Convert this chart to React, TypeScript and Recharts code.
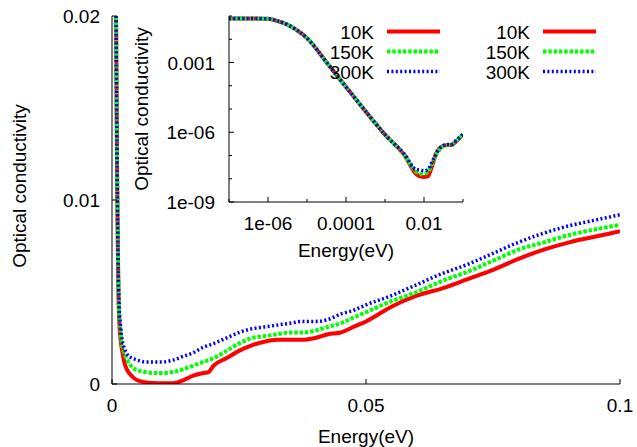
import { LineChart, Line, XAxis, YAxis, Legend, CartesianGrid } from 'recharts';

const INK = '#000';
const FONT = "'Liberation Sans', Arial, Helvetica, sans-serif";
const FS = 19;

// main panel, linear axes
const energyMain = [
  0.0001, 0.0005, 0.0008, 0.001, 0.0012, 0.0014, 0.0017, 0.002, 0.0025, 0.003,
  0.004, 0.005, 0.0065, 0.008, 0.01, 0.012, 0.014, 0.016, 0.018, 0.019,
  0.02, 0.0225, 0.025, 0.0275, 0.03, 0.0325, 0.035, 0.0375, 0.04, 0.0425,
  0.045, 0.0475, 0.05, 0.055, 0.06, 0.065, 0.07, 0.075, 0.08, 0.085,
  0.09, 0.095, 0.1,
];
const sigma10K = [
  0.075, 0.04, 0.02, 0.0115, 0.0062, 0.0036, 0.0024, 0.0018, 0.0011, 0.00075,
  0.0004, 0.0002, 0.0001, 0.00005, 0.00004, 0.00004, 0.0002, 0.00045, 0.0006, 0.00065,
  0.001, 0.0014, 0.0018, 0.0021, 0.0023, 0.0024, 0.0024, 0.0024, 0.0025, 0.0027,
  0.0028, 0.0031, 0.0034, 0.0042, 0.0048, 0.0052, 0.0057, 0.0062, 0.0068, 0.0073,
  0.0077, 0.008, 0.0083,
];
const sigma150K = [
  0.075, 0.04, 0.02, 0.0118, 0.0065, 0.004, 0.0028, 0.0021, 0.0016, 0.0013,
  0.0009, 0.00075, 0.00065, 0.0006, 0.0006, 0.00065, 0.0008, 0.001, 0.0012, 0.0013,
  0.0014, 0.0018, 0.0022, 0.0025, 0.0026, 0.0027, 0.0028, 0.0028, 0.0029, 0.0031,
  0.0033, 0.0036, 0.0039, 0.0045, 0.005, 0.0056, 0.0061, 0.0067, 0.0073, 0.0077,
  0.0081, 0.0084, 0.00865,
];
const sigma300K = [
  0.075, 0.04, 0.02, 0.012, 0.0067, 0.0043, 0.0031, 0.0024, 0.0019, 0.0016,
  0.0014, 0.0013, 0.0012, 0.0012, 0.0012, 0.0013, 0.0015, 0.0017, 0.002, 0.0021,
  0.0022, 0.0025, 0.0028, 0.003, 0.0031, 0.0032, 0.0033, 0.0034, 0.0034, 0.0035,
  0.0038, 0.004, 0.0043, 0.0048, 0.0054, 0.006, 0.0065, 0.0071, 0.0077, 0.0082,
  0.0086, 0.0089, 0.0092,
];
const mainXTicks = [0, 0.05, 0.1];
const mainXLabels = ['0', '0.05', '0.1'];
const mainYTicks = [0, 0.01, 0.02];
const mainYLabels = ['0', '0.01', '0.02'];

// inset, log-log axes
const energyInset = [
  1e-7, 3.2e-7, 1e-6, 1.8e-6, 3.2e-6, 5.6e-6, 1e-5, 3.2e-5, 1e-4, 3.2e-4,
  1e-3, 3.2e-3, 6.3e-3, 7.9e-3, 1e-2, 1.26e-2, 1.58e-2, 2e-2, 2.8e-2, 4e-2,
  5e-2, 7.1e-2, 0.1,
];
const inset10K = [
  0.079, 0.079, 0.076, 0.06, 0.042, 0.024, 0.0112, 1e-3, 8.9e-5, 7.9e-6,
  7.9e-7, 1e-7, 1.6e-8, 1.26e-8, 1.2e-8, 1.26e-8, 3.2e-8, 1.1e-7, 2.4e-7, 2.8e-7,
  2.8e-7, 4.5e-7, 7.6e-7,
];
const inset150K = [
  0.079, 0.079, 0.076, 0.06, 0.042, 0.024, 0.0112, 1e-3, 8.9e-5, 7.9e-6,
  7.9e-7, 1e-7, 2e-8, 1.66e-8, 1.66e-8, 2e-8, 4e-8, 1e-7, 2.2e-7, 2.8e-7,
  2.8e-7, 4.7e-7, 7.9e-7,
];
const inset300K = [
  0.079, 0.079, 0.076, 0.06, 0.042, 0.024, 0.0112, 1e-3, 8.9e-5, 7.9e-6,
  7.9e-7, 1.1e-7, 2.5e-8, 2.4e-8, 2.2e-8, 2.5e-8, 5e-8, 1.1e-7, 2.4e-7, 3e-7,
  3e-7, 5e-7, 8.3e-7,
];
const insetXTicks = [1e-7, 1e-6, 1e-5, 1e-4, 1e-3, 1e-2, 1e-1];
const insetXLabels = ['', '1e-06', '', '0.0001', '', '0.01', ''];
const insetYTicks = [1e-9, 1e-8, 1e-7, 1e-6, 1e-5, 1e-4, 1e-3, 1e-2, 1e-1];
const insetYLabels = ['1e-09', '', '', '1e-06', '', '', '0.001', '', ''];

const series = [
  { key: 't10', name: '10K', color: '#ff0000', width: 4, dash: undefined as string | undefined },
  { key: 't150', name: '150K', color: '#00ff00', width: 4, dash: '3.5 1.8' },
  { key: 't300', name: '300K', color: '#0000ff', width: 3.5, dash: '2 2.4' },
];

const mainRows = energyMain.map((e, i) => ({ e, t10: sigma10K[i], t150: sigma150K[i], t300: sigma300K[i] }));
const insetRows = energyInset.map((e, i) => ({ e, t10: inset10K[i], t150: inset150K[i], t300: inset300K[i] }));

const textProps = { fontFamily: FONT, fontSize: FS, fill: INK };

// ticks point inward, gnuplot style; tickSize/tickMargin are 0 so (x, y) sits on the axis line
const leftTick = (labels: string[], gap: number) => (p: any) => {
  const label = labels[p.index] || '';
  return (
    <g>
      <line x1={p.x} y1={p.y} x2={p.x + (label ? 5 : 3)} y2={p.y} stroke={INK} />
      {label && (
        <text x={p.x - gap} y={p.y + 7} textAnchor="end" {...textProps}>
          {label}
        </text>
      )}
    </g>
  );
};
const rightTick = (labels: string[]) => (p: any) => (
  <line x1={p.x - (labels[p.index] ? 5 : 3)} y1={p.y} x2={p.x} y2={p.y} stroke={INK} />
);
const bottomTick = (labels: string[]) => (p: any) => {
  const label = labels[p.index] || '';
  return (
    <g>
      <line x1={p.x} y1={p.y} x2={p.x} y2={p.y - (label ? 5 : 3)} stroke={INK} />
      {label && (
        <text x={p.x} y={p.y + 28} textAnchor="middle" {...textProps}>
          {label}
        </text>
      )}
    </g>
  );
};
const topTick = (labels: string[]) => (p: any) => (
  <line x1={p.x} y1={p.y} x2={p.x} y2={p.y + (labels[p.index] ? 5 : 3)} stroke={INK} />
);

const xTitle = (drop: number) => (p: any) => {
  const vb = p.viewBox;
  return (
    <text x={vb.x + vb.width / 2} y={vb.y + drop} textAnchor="middle" {...textProps}>
      Energy(eV)
    </text>
  );
};
const yTitle = (dx: number, dy: number) => (p: any) => {
  const vb = p.viewBox;
  const x = vb.x + dx;
  const y = vb.y + vb.height / 2 + dy;
  return (
    <text x={x} y={y} textAnchor="middle" transform={`rotate(-90 ${x} ${y})`} {...textProps}>
      Optical conductivity
    </text>
  );
};

const KeyBox = () => (
  <svg width={125} height={62} style={{ display: 'block', overflow: 'visible' }}>
    {series.map((s, i) => (
      <g key={s.key}>
        <text x={50} y={10.5 + 20 * i + 7} textAnchor="end" {...textProps}>
          {s.name}
        </text>
        <line
          x1={63}
          x2={116}
          y1={10.5 + 20 * i}
          y2={10.5 + 20 * i}
          stroke={s.color}
          strokeWidth={s.width}
          strokeDasharray={s.dash}
        />
      </g>
    ))}
  </svg>
);

const curves = () =>
  series.map((s) => (
    <Line
      key={s.key}
      dataKey={s.key}
      name={s.name}
      type="monotone"
      stroke={s.color}
      strokeWidth={s.width}
      strokeDasharray={s.dash}
      strokeLinecap="butt"
      dot={false}
      activeDot={false}
      isAnimationActive={false}
    />
  ));

export default function App() {
  return (
    <div style={{ position: 'absolute', left: 0, top: 0, width: 637, height: 447, background: '#fff', fontFamily: FONT }}>
      <LineChart width={637} height={447} data={mainRows} margin={{ top: 16, right: 17, bottom: 0, left: 0 }}>
        <XAxis
          dataKey="e"
          type="number"
          domain={[0, 0.1]}
          ticks={mainXTicks}
          interval={0}
          height={63}
          tickSize={0}
          tickMargin={0}
          tick={bottomTick(mainXLabels)}
          axisLine={{ stroke: INK }}
          allowDataOverflow
          label={{ content: xTitle(59) }}
        />
        <XAxis
          xAxisId="top"
          orientation="top"
          type="number"
          domain={[0, 0.1]}
          ticks={mainXTicks}
          interval={0}
          height={0}
          tickSize={0}
          tickMargin={0}
          tick={topTick(mainXLabels)}
          axisLine={{ stroke: INK }}
          allowDataOverflow
        />
        <YAxis
          type="number"
          domain={[0, 0.02]}
          ticks={mainYTicks}
          interval={0}
          width={112}
          tickSize={0}
          tickMargin={0}
          tick={leftTick(mainYLabels, 12)}
          axisLine={{ stroke: INK }}
          allowDataOverflow
          label={{ content: yTitle(26, -14) }}
        />
        <YAxis
          yAxisId="right"
          orientation="right"
          type="number"
          domain={[0, 0.02]}
          ticks={mainYTicks}
          interval={0}
          width={0}
          tickSize={0}
          tickMargin={0}
          tick={rightTick(mainYLabels)}
          axisLine={{ stroke: INK }}
          allowDataOverflow
        />
        <Legend
          layout="vertical"
          align="center"
          verticalAlign="middle"
          content={KeyBox}
          wrapperStyle={{ left: 480, top: 21, width: 125, height: 62 }}
        />
        {curves()}
      </LineChart>

      <div style={{ position: 'absolute', left: 130, top: 0 }}>
        <LineChart width={340} height={270} data={insetRows} margin={{ top: 16, right: 7, bottom: 0, left: 0 }}>
          <CartesianGrid horizontal={false} vertical={false} fill="#fff" />
          <XAxis
            dataKey="e"
            type="number"
            scale="log"
            domain={[1e-7, 0.1]}
            ticks={insetXTicks}
            interval={0}
            height={68}
            tickSize={0}
            tickMargin={0}
            tick={bottomTick(insetXLabels)}
            axisLine={{ stroke: INK }}
            allowDataOverflow
            label={{ content: xTitle(55) }}
          />
          <XAxis
            xAxisId="top"
            orientation="top"
            type="number"
            scale="log"
            domain={[1e-7, 0.1]}
            ticks={insetXTicks}
            interval={0}
            height={0}
            tickSize={0}
            tickMargin={0}
            tick={topTick(insetXLabels)}
            axisLine={{ stroke: INK }}
            allowDataOverflow
          />
          <YAxis
            type="number"
            scale="log"
            domain={[1e-9, 0.1]}
            ticks={insetYTicks}
            interval={0}
            width={99}
            tickSize={0}
            tickMargin={0}
            tick={leftTick(insetYLabels, 14)}
            axisLine={{ stroke: INK }}
            allowDataOverflow
            label={{ content: yTitle(18, 0) }}
          />
          <YAxis
            yAxisId="right"
            orientation="right"
            type="number"
            scale="log"
            domain={[1e-9, 0.1]}
            ticks={insetYTicks}
            interval={0}
            width={0}
            tickSize={0}
            tickMargin={0}
            tick={rightTick(insetYLabels)}
            axisLine={{ stroke: INK }}
            allowDataOverflow
          />
          <Legend
            layout="vertical"
            align="center"
            verticalAlign="middle"
            content={KeyBox}
            wrapperStyle={{ left: 194, top: 21, width: 125, height: 62 }}
          />
          {curves()}
        </LineChart>
      </div>
    </div>
  );
}
